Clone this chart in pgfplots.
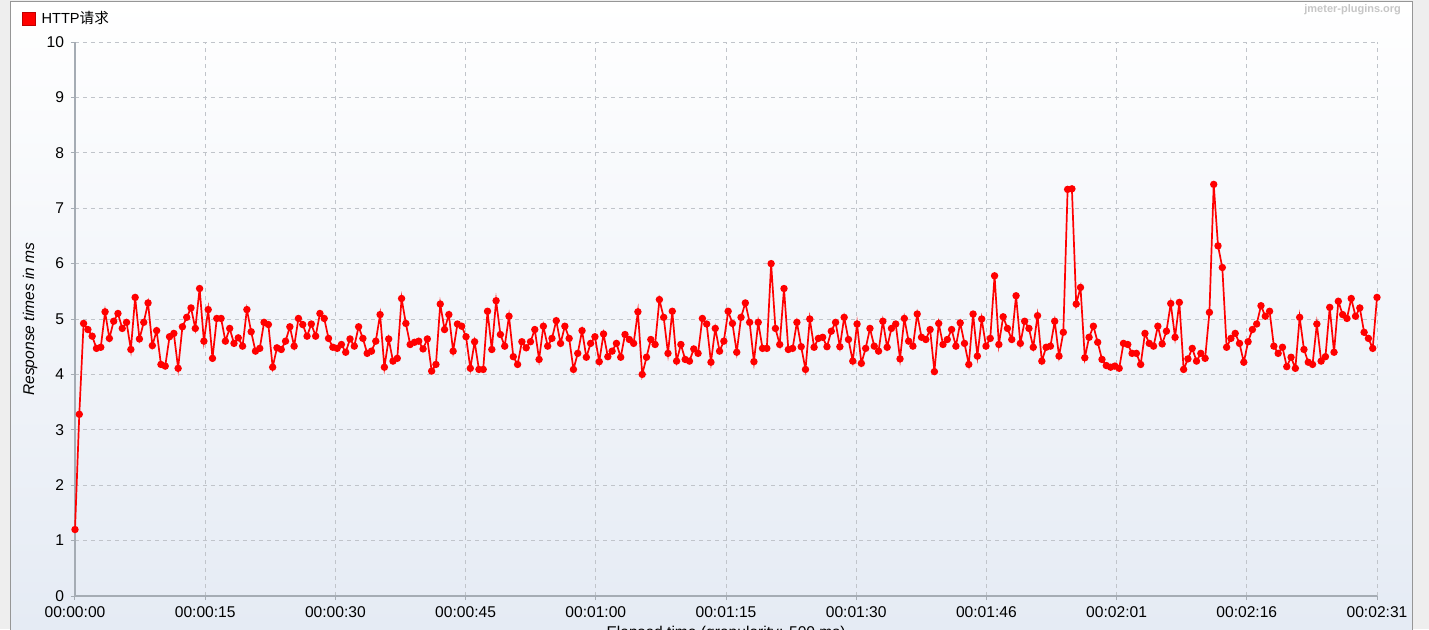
\documentclass[border=0pt]{standalone}
\usepackage{pgfplots}
\pgfplotsset{compat=1.18}
\usepackage{pgfplotstable}
\usepackage{fontspec}
\setmainfont{Liberation Sans}
\newfontfamily\cjk{Noto Sans CJK SC}
\definecolor{bgbottom}{RGB}{229,235,244}
\definecolor{gridc}{RGB}{192,196,202}
\definecolor{axisc}{RGB}{165,172,180}
\definecolor{outerc}{RGB}{238,238,238}
\definecolor{panelborder}{RGB}{150,150,150}

\pgfplotstableread[row sep=\\]{ms\\
1.20\\3.28\\4.92\\4.81\\4.69\\4.47\\4.49\\5.13\\4.65\\4.96\\
5.10\\4.83\\4.94\\4.45\\5.39\\4.64\\4.94\\5.29\\4.52\\4.79\\
4.18\\4.15\\4.68\\4.74\\4.11\\4.86\\5.03\\5.20\\4.83\\5.55\\
4.60\\5.17\\4.29\\5.01\\5.01\\4.60\\4.83\\4.56\\4.66\\4.51\\
5.17\\4.77\\4.42\\4.47\\4.94\\4.90\\4.13\\4.48\\4.45\\4.60\\
4.86\\4.51\\5.01\\4.90\\4.69\\4.91\\4.69\\5.10\\5.01\\4.65\\
4.49\\4.47\\4.54\\4.40\\4.64\\4.51\\4.86\\4.65\\4.38\\4.42\\
4.60\\5.08\\4.13\\4.64\\4.24\\4.29\\5.37\\4.92\\4.54\\4.58\\
4.60\\4.46\\4.64\\4.06\\4.18\\5.27\\4.81\\5.08\\4.42\\4.91\\
4.87\\4.68\\4.11\\4.59\\4.09\\4.09\\5.14\\4.45\\5.33\\4.72\\
4.51\\5.05\\4.32\\4.18\\4.59\\4.48\\4.59\\4.81\\4.27\\4.87\\
4.51\\4.65\\4.97\\4.56\\4.87\\4.65\\4.09\\4.38\\4.79\\4.31\\
4.56\\4.68\\4.23\\4.73\\4.32\\4.42\\4.56\\4.31\\4.72\\4.63\\
4.56\\5.13\\4.00\\4.31\\4.63\\4.54\\5.35\\5.03\\4.38\\5.14\\
4.24\\4.54\\4.27\\4.24\\4.46\\4.38\\5.01\\4.91\\4.22\\4.83\\
4.42\\4.60\\5.14\\4.92\\4.40\\5.03\\5.29\\4.94\\4.23\\4.94\\
4.47\\4.47\\6.00\\4.83\\4.54\\5.55\\4.45\\4.47\\4.94\\4.50\\
4.09\\5.00\\4.49\\4.65\\4.67\\4.50\\4.78\\4.94\\4.50\\5.03\\
4.63\\4.24\\4.91\\4.20\\4.47\\4.83\\4.51\\4.42\\4.96\\4.49\\
4.83\\4.91\\4.28\\5.01\\4.60\\4.51\\5.09\\4.67\\4.63\\4.81\\
4.05\\4.92\\4.54\\4.63\\4.81\\4.51\\4.93\\4.56\\4.18\\5.09\\
4.33\\5.00\\4.51\\4.65\\5.78\\4.54\\5.04\\4.83\\4.63\\5.42\\
4.56\\4.96\\4.83\\4.49\\5.06\\4.24\\4.49\\4.51\\4.96\\4.33\\
4.76\\7.34\\7.35\\5.27\\5.57\\4.30\\4.67\\4.87\\4.58\\4.27\\
4.16\\4.13\\4.15\\4.11\\4.56\\4.54\\4.38\\4.38\\4.18\\4.74\\
4.56\\4.51\\4.87\\4.55\\4.78\\5.28\\4.67\\5.30\\4.09\\4.28\\
4.47\\4.24\\4.38\\4.29\\5.12\\7.43\\6.32\\5.93\\4.49\\4.65\\
4.74\\4.56\\4.22\\4.59\\4.81\\4.91\\5.24\\5.05\\5.14\\4.51\\
4.38\\4.49\\4.14\\4.31\\4.11\\5.03\\4.45\\4.22\\4.18\\4.91\\
4.24\\4.32\\5.21\\4.40\\5.32\\5.08\\5.01\\5.37\\5.05\\5.20\\
4.76\\4.65\\4.47\\5.39\\
}\resp

\begin{document}
\begin{tikzpicture}[font=\fontsize{7.8}{9}\selectfont]
\fill[outerc] (-37.5pt,-16.5pt) rectangle (677pt,298pt);
\shade[top color=white, bottom color=bgbottom] (-32.25pt,-16.5pt) rectangle (668.5pt,297.5pt);
\draw[panelborder, line width=0.5pt] (-32.25pt,-20pt) -- (-32.25pt,297.5pt) -- (668.5pt,297.5pt) -- (668.5pt,-20pt);
\begin{axis}[
  scale only axis, width=651pt, height=277pt,
  xmin=0, xmax=151.5, ymin=0, ymax=10,
  clip=false,
  axis x line*=bottom, axis y line*=left,
  axis line style={axisc, line width=0.6pt, -},
  xtick={0,15.15,30.3,45.45,60.6,75.75,90.9,106.05,121.2,136.35,151.5},
  xticklabels={00:00:00,00:00:15,00:00:30,00:00:45,00:01:00,00:01:15,00:01:30,00:01:46,00:02:01,00:02:16,00:02:31},
  ytick={0,1,...,10},
  tick align=outside, major tick length=2pt,
  tick style={axisc, line width=0.5pt},
  grid=major,
  major grid style={gridc, line width=0.5pt, dash pattern=on 1.8pt off 2.2pt},
  tick label style={font=\fontsize{7.8}{9}\selectfont, black},
  /pgf/number format/assume math mode=true,
  ylabel={Response times in ms},
  ylabel style={font=\fontsize{7.8}{9}\selectfont\itshape, at={(axis description cs:-0.03456,0.5)}, anchor=center},
  xlabel={Elapsed time (granularity: 500 ms)},
  xlabel style={at={(axis description cs:0.5,0)}, anchor=north, yshift=-15pt, inner sep=0pt},
  legend style={at={(axis description cs:0,1)}, anchor=north west, xshift=-26.5pt, yshift=15.5pt,
    draw=none, fill=none, inner sep=0pt, font=\fontsize{7.3}{9}\selectfont,
    nodes={inner sep=0pt}, cells={anchor=west}},
  legend image code/.code={\draw[draw=red!75!black, fill=red, line width=0.3pt] (0pt,-3.25pt) rectangle (6.5pt,3.25pt); \path (9pt,0pt);},
]
\addplot[red, line width=0.85pt, mark=*, mark size=1.4pt, mark options={fill=red, draw=red}]
  table[x expr=\coordindex*0.5, y=ms] {\resp};
\addlegendentry{HTTP{\cjk 请求}}
\end{axis}
\node[anchor=east, text=gray!45, font=\fontsize{5.5}{6}\selectfont\bfseries] at (666.5pt,293pt) {jmeter-plugins.org};
\pgfresetboundingbox
\path[use as bounding box] (-37.5pt,-16.5pt) rectangle (677pt,298pt);
\end{tikzpicture}
\end{document}
